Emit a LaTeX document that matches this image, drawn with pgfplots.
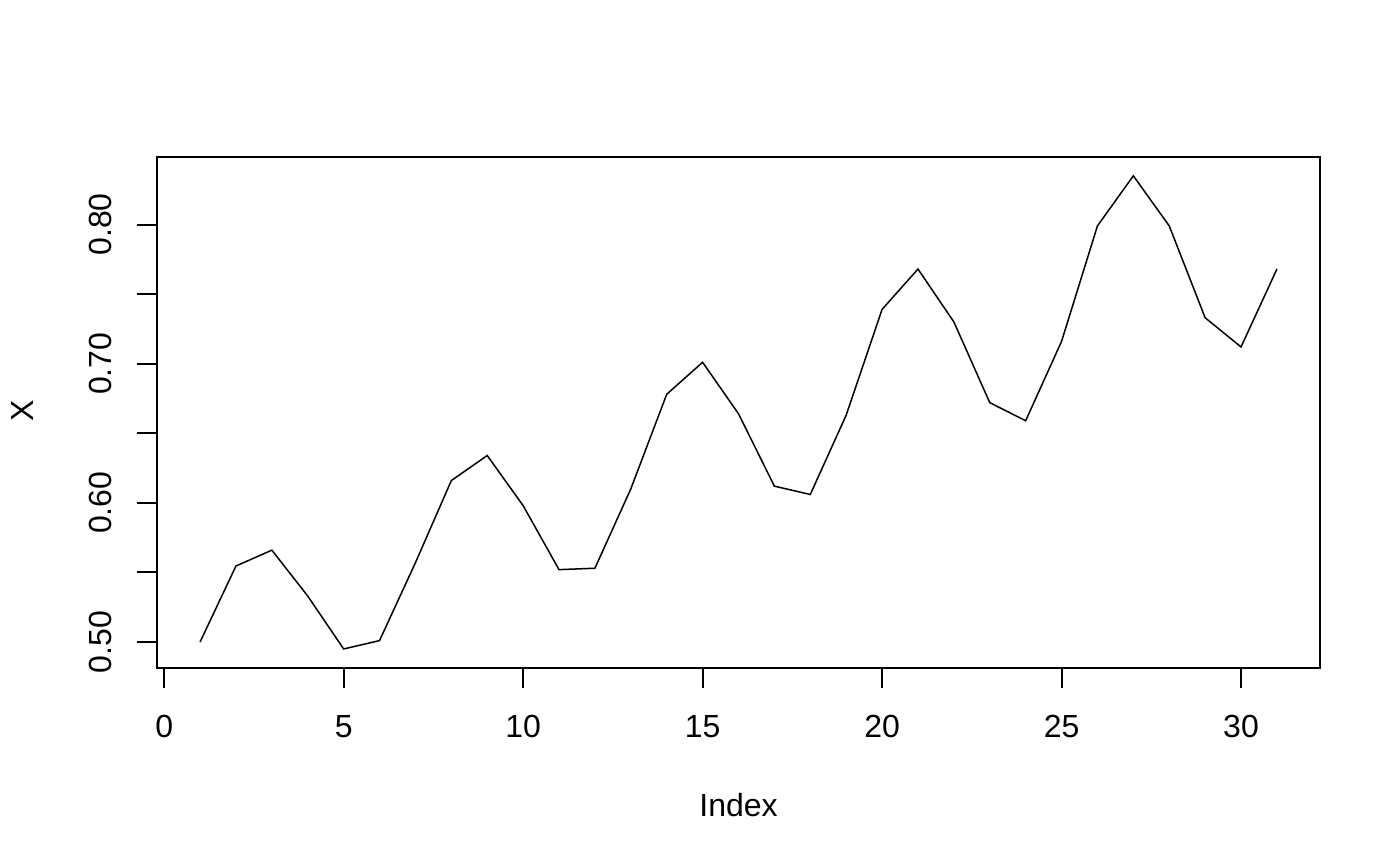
\documentclass[border=0pt]{standalone}
\usepackage{fontspec}
\setmainfont{Liberation Sans}
\usepackage{pgfplots}
\pgfplotsset{compat=1.18}
\begin{document}
\begin{tikzpicture}
\begin{axis}[
  scale only axis,
  width=581.5pt, height=255.5pt,
  xmin=-0.2, xmax=32.2,
  ymin=0.4814, ymax=0.8486,
  axis line style={line width=0.9pt},
  tick style={line width=1pt, black},
  tick align=outside,
  major tick length=10pt,
  xtick={0,5,10,15,20,25,30},
  ytick={0.50,0.55,0.60,0.65,0.70,0.75,0.80},
  yticklabels={0.50,,0.60,,0.70,,0.80},
  xtick pos=bottom, ytick pos=left,
  /pgf/number format/assume math mode=true,
  ticklabel style={font=\fontsize{16}{19}\selectfont},
  xticklabel style={anchor=base, yshift=-25pt},
  yticklabel style={rotate=90, anchor=base, yshift=12.5pt},
  label style={font=\fontsize{16}{19}\selectfont},
  xlabel={Index},
  ylabel={X},
  xlabel style={at={(rel axis cs:0.5,-0.268)}, anchor=center},
  ylabel style={at={(rel axis cs:-0.116,0.503)}, anchor=center, rotate=0},
  clip=false,
]
\addplot[black, line width=0.75pt] coordinates {
(1,0.500) (2,0.5546) (3,0.566) (4,0.533) (5,0.495) (6,0.501) (7,0.557) (8,0.616)
(9,0.634) (10,0.598) (11,0.552) (12,0.553) (13,0.610) (14,0.678) (15,0.701)
(16,0.664) (17,0.612) (18,0.606) (19,0.663) (20,0.739) (21,0.768) (22,0.730)
(23,0.672) (24,0.659) (25,0.716) (26,0.799) (27,0.835) (28,0.799) (29,0.733)
(30,0.712) (31,0.768)
};
\path (rel axis cs:-0.135,1.307) rectangle (rel axis cs:1.0688,-0.3855);
\end{axis}
\end{tikzpicture}
\end{document}
